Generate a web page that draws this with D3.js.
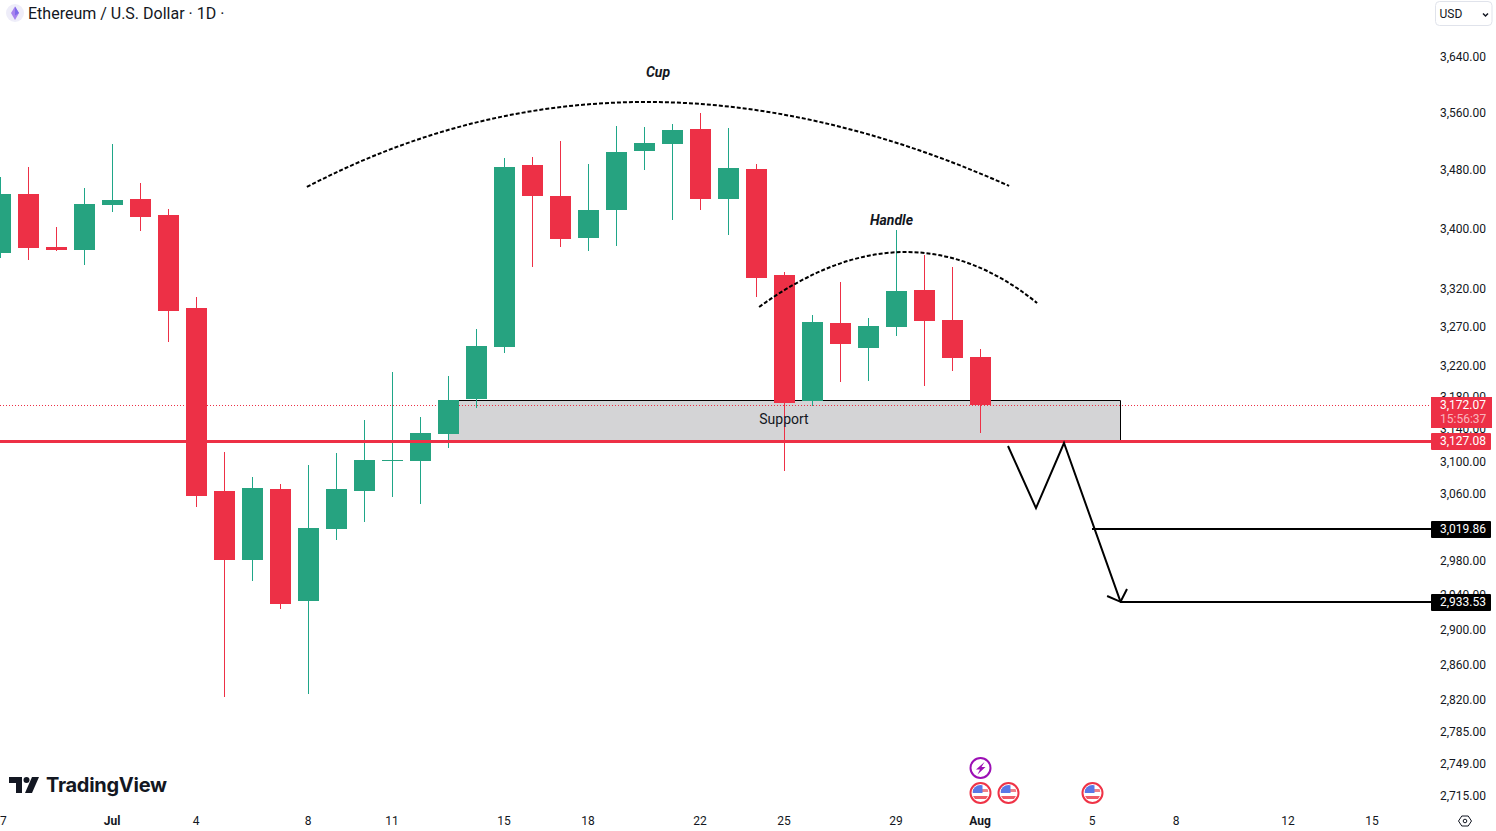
<!DOCTYPE html>
<html>
<head>
<meta charset="utf-8">
<title>ETH/USD</title>
<script src="https://cdnjs.cloudflare.com/ajax/libs/d3/7.8.5/d3.min.js"></script>
<style>
	html, body { margin: 0; padding: 0; background: #fff; overflow: hidden; }
	text { font-family: Roboto, sans-serif; fill: #131722; }
</style>
</head>
<body>
<svg id="mainsvg" width="1496" height="831"></svg>
<script>
// daily candles from Jun 27 on
var opens = [3369.4, 3448.9, 3377.1, 3373, 3433.8, 3442, 3420.3, 3296.3, 3065.4, 2982.6, 3067.9, 2934.4, 3019.6, 3065.4, 3102.1, 3102.1, 3135.6, 3179.4, 3245.6, 3488.8, 3446.1, 3388.8, 3427.1, 3508.1, 3517.9, 3539, 3442, 3483.3, 3339.9, 3176.9, 3276.8, 3244.3, 3271.6, 3319.9, 3280.7, 3232.8];
var highs = [3472.3, 3486.1, 3404.1, 3457.1, 3517.9, 3464, 3428.4, 3310.7, 3113.2, 3082.6, 3074, 3097.2, 3111.9, 3153.1, 3213.7, 3156.8, 3208.6, 3269, 3498.5, 3499.9, 3522.1, 3490.2, 3543.2, 3541.8, 3546.1, 3561.5, 3540.4, 3490.2, 3343.8, 3287.2, 3330.6, 3283.3, 3400, 3366.4, 3350.5, 3243];
var lows = [3362.4, 3359.7, 3371.7, 3353.1, 3424.4, 3398.7, 3252.1, 3046, 2824.8, 2957.9, 2925.2, 2828.2, 3006.4, 3028, 3058, 3049.6, 3118.1, 3168.1, 3237.9, 3350.5, 3377.1, 3371.7, 3378.4, 3481.9, 3413.6, 3427.1, 3393.3, 3310.7, 3089.9, 3170.6, 3201, 3202.3, 3259.9, 3195.9, 3215, 3136.9];
var closes = [3448.9, 3375.7, 3373, 3435.2, 3440.6, 3417.6, 3292.4, 3059.3, 2982.6, 3069.1, 2931, 3020.8, 3067.9, 3103.4, 3102.9, 3136.9, 3178.1, 3246.9, 3486.1, 3446.1, 3387.5, 3427.1, 3506.7, 3519.3, 3537.6, 3442, 3484.7, 3335.9, 3174.4, 3278.1, 3249.5, 3272.9, 3318.6, 3279.4, 3231.5, 3172.07];

var priceTicks = [3640, 3560, 3480, 3400, 3320, 3270, 3220, 3180, 3140, 3100, 3060, 2980, 2940, 2900, 2860, 2820, 2785, 2749, 2715];
var dayTicks = [0, 4, 7, 11, 14, 18, 21, 25, 28, 32, 35, 39, 42, 46, 49];
var dayLabels = ["27", "Jul", "4", "8", "11", "15", "18", "22", "25", "29", "Aug", "5", "8", "12", "15"];

var lastPrice = 3172.07;
var countdown = "15:56:37";
var redLevel = 3127.08;
var target1 = 3019.86;
var target2 = 2933.53;

// drawings, as [day, price]
var zoneDays = [16, 40];
var zonePrices = [3178.1, 3127.08];
var cupPoints = [[10.96, 3458.4], [22.57, 3699], [36.04, 3459.8]];
var handlePoints = [[27.11, 3297.5], [32.43, 3441.9], [37.04, 3302.8]];
var zigzag = [[36, 3120.6], [37, 3044.7], [38, 3124.3], [40.02, 2933.53]];
var arrowHead = [[39.54, 2940.3], [40.02, 2933.53], [40.25, 2948.4]];
var eventDays = [35, 36, 39];

var UP = "#26a380", DOWN = "#ed3046", UPWICK = "#1fa688";

var svg = d3.select("#mainsvg");
var x = d3.scaleLinear().domain([0, 49]).range([0, 1372]);
var y = d3.scaleLog().domain([3640, 2715]).range([58, 796.9]);
var chartRight = 1431;

function rawY(p) { return Math.round(y(p)); }

var back = svg.append("g");
var candles = svg.append("g");
var front = svg.append("g");
var axes = svg.append("g");

// support zone
var zx0 = x(zoneDays[0]), zx1 = x(zoneDays[1]);
var zy0 = rawY(zonePrices[0]), zy1 = rawY(zonePrices[1]);
back.append("rect")
	.attr("x", zx0).attr("y", zy0)
	.attr("width", zx1 - zx0).attr("height", zy1 - zy0)
	.attr("fill", "#d4d4d6");
back.append("path")
	.attr("d", "M" + zx0 + "," + (zy0 + 0.5) + "H" + (zx1 + 0.5) + "V" + zy1)
	.attr("fill", "none").attr("stroke", "#000").attr("stroke-width", 1);

// last price dotted line
back.append("line")
	.attr("x1", 0).attr("x2", chartRight)
	.attr("y1", rawY(lastPrice) + 0.5).attr("y2", rawY(lastPrice) + 0.5)
	.attr("stroke", DOWN).attr("stroke-width", 1).attr("stroke-dasharray", "1,2");

var idx = d3.range(opens.length);

candles.selectAll("rect.wick")
	.data(idx)
	.enter().append("rect")
	.attr("class", "wick")
	.attr("x", function(d) { return Math.round(x(d)); })
	.attr("y", function(d) { return rawY(highs[d]); })
	.attr("width", 1)
	.attr("height", function(d) { return rawY(lows[d]) - rawY(highs[d]); })
	.attr("fill", function(d) { return closes[d] >= opens[d] ? UPWICK : DOWN; });

candles.selectAll("rect.body")
	.data(idx)
	.enter().append("rect")
	.attr("class", "body")
	.attr("x", function(d) { return Math.round(x(d)) - 10; })
	.attr("y", function(d) { return rawY(Math.max(opens[d], closes[d])); })
	.attr("width", 21)
	.attr("height", function(d) {
		return Math.max(1, rawY(Math.min(opens[d], closes[d])) - rawY(Math.max(opens[d], closes[d])));
	})
	.attr("fill", function(d) { return closes[d] >= opens[d] ? UP : DOWN; });

front.append("text")
	.attr("x", x(28)).attr("y", 424)
	.attr("text-anchor", "middle")
	.attr("font-size", 14)
	.text("Support");

// cup and handle arcs
function arc(pts) {
	var p = d3.path();
	p.moveTo(x(pts[0][0]), y(pts[0][1]));
	p.quadraticCurveTo(x(pts[1][0]), y(pts[1][1]), x(pts[2][0]), y(pts[2][1]));
	return p.toString();
}
[cupPoints, handlePoints].forEach(function(pts) {
	front.append("path")
		.attr("d", arc(pts))
		.attr("fill", "none")
		.attr("stroke", "#000")
		.attr("stroke-width", 2)
		.attr("stroke-dasharray", "4,2");
});

front.append("text")
	.attr("x", 658).attr("y", 77)
	.attr("text-anchor", "middle")
	.attr("font-size", 14).attr("font-weight", 700).attr("font-style", "italic")
	.text("Cup");
front.append("text")
	.attr("x", 891.5).attr("y", 225)
	.attr("text-anchor", "middle")
	.attr("font-size", 14).attr("font-weight", 700).attr("font-style", "italic")
	.text("Handle");

// red level on top of the candles
front.append("line")
	.attr("x1", 0).attr("x2", chartRight)
	.attr("y1", rawY(redLevel) + 0.5).attr("y2", rawY(redLevel) + 0.5)
	.attr("stroke", DOWN).attr("stroke-width", 3);

// projected path and targets
var line = d3.line()
	.x(function(d) { return x(d[0]); })
	.y(function(d) { return y(d[1]); });
[zigzag, arrowHead].forEach(function(pts) {
	front.append("path")
		.attr("d", line(pts))
		.attr("fill", "none")
		.attr("stroke", "#000")
		.attr("stroke-width", 2);
});
front.append("line")
	.attr("x1", x(39)).attr("x2", chartRight)
	.attr("y1", rawY(target1)).attr("y2", rawY(target1))
	.attr("stroke", "#000").attr("stroke-width", 2);
front.append("line")
	.attr("x1", x(40)).attr("x2", chartRight)
	.attr("y1", rawY(target2)).attr("y2", rawY(target2))
	.attr("stroke", "#000").attr("stroke-width", 2);

// axes
var yAxis = d3.axisRight(y)
	.tickValues(priceTicks)
	.tickSize(0)
	.tickPadding(0)
	.tickFormat(d3.format(",.2f"));
var yg = axes.append("g")
	.attr("transform", "translate(1440,-1.5)")
	.call(yAxis);
yg.select(".domain").remove();
yg.selectAll("text").attr("font-size", 12).style("font-family", "Roboto, sans-serif").style("fill", "#131722");

var xAxis = d3.axisBottom(x)
	.tickValues(dayTicks)
	.tickSize(0)
	.tickPadding(0)
	.offset(0)
	.tickFormat(function(d, i) { return dayLabels[i]; });
var xg = axes.append("g")
	.attr("transform", "translate(0,816)")
	.call(xAxis);
xg.select(".domain").remove();
xg.selectAll("text")
	.attr("font-size", 12)
	.style("font-family", "Roboto, sans-serif")
	.style("fill", "#131722")
	.attr("font-weight", function(d, i) { return isNaN(+dayLabels[i]) ? 700 : 400; });

// price labels on the scale
function priceTag(price, fill, h) {
	var cy = rawY(price);
	axes.append("rect")
		.attr("x", chartRight).attr("y", cy - h / 2 + 0.5)
		.attr("width", 60).attr("height", h)
		.attr("rx", 1)
		.attr("fill", fill);
	axes.append("text")
		.attr("x", 1440).attr("y", cy + 4)
		.attr("font-size", 12)
		.style("fill", "#fff")
		.text(d3.format(",.2f")(price));
}
priceTag(redLevel, DOWN, 17);
priceTag(target1, "#000", 17);
priceTag(target2, "#000", 17);
axes.append("rect")
	.attr("x", chartRight).attr("y", 397)
	.attr("width", 61).attr("height", 31)
	.attr("fill", DOWN);
axes.append("text")
	.attr("x", 1440).attr("y", 409)
	.attr("font-size", 12).style("fill", "#fff")
	.text(d3.format(",.2f")(lastPrice));
axes.append("text")
	.attr("x", 1440).attr("y", 423)
	.attr("font-size", 12).style("fill", "#fff")
	.style("fill-opacity", 0.65)
	.text(countdown);

// legend
var legend = svg.append("g");
legend.append("circle").attr("cx", 15).attr("cy", 13).attr("r", 9).attr("fill", "#eeedf9");
legend.append("path").attr("d", "M15,6.5L19,13L15,20L11,13Z").attr("fill", "#a883ee");
legend.append("path").attr("d", "M15,6.5L19,13L15,15.5Z").attr("fill", "#7f6bea");
legend.append("text")
	.attr("x", 28).attr("y", 19)
	.attr("font-size", 16)
	.text("Ethereum / U.S. Dollar · 1D ·");

// currency button
legend.append("rect")
	.attr("x", 1435.5).attr("y", 1.5)
	.attr("width", 56.5).attr("height", 24)
	.attr("rx", 4)
	.attr("fill", "#fff").attr("stroke", "#e0e3eb");
legend.append("text")
	.attr("x", 1439.5).attr("y", 18)
	.attr("font-size", 12)
	.text("USD");
legend.append("path")
	.attr("d", "M1483,13.5l2.5,2.5l2.5,-2.5")
	.attr("fill", "none").attr("stroke", "#131722").attr("stroke-width", 1.5);

// logo
var logo = svg.append("g");
logo.append("path").attr("d", "M9,777H22V793H16V783H9Z").attr("fill", "#131722");
logo.append("circle").attr("cx", 26.5).attr("cy", 780).attr("r", 3).attr("fill", "#131722");
logo.append("path").attr("d", "M32,777H39L32,793H25Z").attr("fill", "#131722");
logo.append("text")
	.attr("x", 46).attr("y", 792)
	.attr("font-size", 20).attr("font-weight", 700)
	.style("font-family", "Inter, sans-serif")
	.attr("textLength", 121)
	.text("TradingView");

// event markers
var events = svg.append("g");
var defs = svg.append("defs");
defs.append("clipPath").attr("id", "flagclip")
	.append("circle").attr("r", 8);

var lightning = events.append("g").attr("transform", "translate(" + (x(35) + 0.5) + ",768)");
lightning.append("circle").attr("r", 10)
	.attr("fill", "#fff").attr("stroke", "#9c0fb5").attr("stroke-width", 2);
lightning.append("path")
	.attr("d", "M4,-6L-4.5,1.5H-0.5L-3,6.5L5,-1H1Z")
	.attr("fill", "#9c0fb5");

var flag = events.selectAll("g.flag")
	.data(eventDays)
	.enter().append("g")
	.attr("class", "flag")
	.attr("transform", function(d) { return "translate(" + (x(d) + 0.5) + ",793)"; });
flag.append("circle").attr("r", 10)
	.attr("fill", "#fff").attr("stroke", "#ef3346").attr("stroke-width", 2);
var inner = flag.append("g").attr("clip-path", "url(#flagclip)");
inner.append("rect").attr("x", -8).attr("y", -4).attr("width", 16).attr("height", 3).attr("fill", "#ef7f88");
inner.append("rect").attr("x", -8).attr("y", 3).attr("width", 16).attr("height", 3).attr("fill", "#ef5a66");
inner.append("rect").attr("x", -8).attr("y", -8).attr("width", 10).attr("height", 8).attr("fill", "#5a78e6");

// settings hexagon
var gear = svg.append("g").attr("transform", "translate(1465,821)");
gear.append("path")
	.attr("d", "M-6.5,0L-3.2,-5H3.2L6.5,0L3.2,5H-3.2Z")
	.attr("fill", "none").attr("stroke", "#131722").attr("stroke-width", 1);
gear.append("circle").attr("r", 1.8)
	.attr("fill", "none").attr("stroke", "#131722").attr("stroke-width", 1);
</script>
</body>
</html>
